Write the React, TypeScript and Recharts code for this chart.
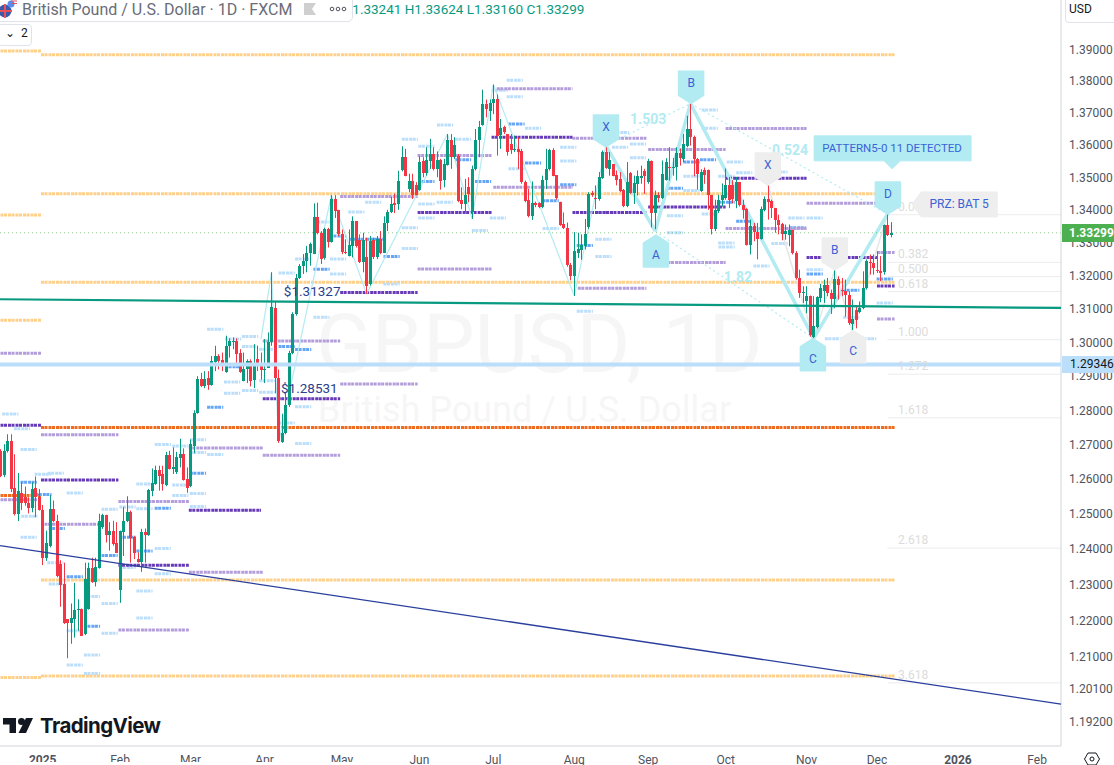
import { Bar, ComposedChart, ReferenceDot, ReferenceLine, XAxis, YAxis } from 'recharts';

const WIDTH = 1114;
const HEIGHT = 765;

const UP = '#089981';
const DOWN = '#f23645';
const CYAN = '#b2ebf2';
const BLUE_TEXT = '#3b62d6';

// daily bars, oldest first
const opens = [
  1.2682, 1.2612, 1.2682, 1.2711, 1.2575, 1.2501, 1.2561, 1.2548, 1.2532, 1.2518,
  1.2575, 1.2548, 1.2512, 1.2374, 1.2410, 1.2515, 1.2480, 1.2359, 1.2302, 1.2203,
  1.2192, 1.2205, 1.2230, 1.2233, 1.2163, 1.2233, 1.2346, 1.2307, 1.2348, 1.2462,
  1.2498, 1.2441, 1.2451, 1.2417, 1.2284, 1.2450, 1.2479, 1.2505, 1.2436, 1.2372,
  1.2364, 1.2448, 1.2440, 1.2566, 1.2586, 1.2627, 1.2615, 1.2584, 1.2670, 1.2628,
  1.2622, 1.2662, 1.2674, 1.2601, 1.2580, 1.2695, 1.2793, 1.2892, 1.2872, 1.2895,
  1.2875, 1.2942, 1.2960, 1.2947, 1.2912, 1.2990, 1.3000, 1.3003, 1.2970, 1.2887,
  1.2920, 1.2945, 1.2888, 1.2950, 1.2930, 1.2920, 1.2925, 1.3000, 1.3103, 1.2895,
  1.2707, 1.2735, 1.2815, 1.2968, 1.3085, 1.3193, 1.3230, 1.3243, 1.3268, 1.3265,
  1.3378, 1.3330, 1.3252, 1.3340, 1.3302, 1.3433, 1.3398, 1.3327, 1.3272, 1.3260,
  1.3290, 1.3365, 1.3308, 1.3240, 1.3255, 1.3175, 1.3307, 1.3255, 1.3310, 1.3268,
  1.3360, 1.3393, 1.3420, 1.3417, 1.3521, 1.3562, 1.3464, 1.3490, 1.3475, 1.3462,
  1.3549, 1.3514, 1.3549, 1.3572, 1.3526, 1.3552, 1.3492, 1.3539, 1.3616, 1.3562,
  1.3567, 1.3431, 1.3418, 1.3471, 1.3392, 1.3526, 1.3614, 1.3662, 1.3727, 1.3706,
  1.3732, 1.3744, 1.3631, 1.3655, 1.3634, 1.3603, 1.3583, 1.3588, 1.3580, 1.3485,
  1.3430, 1.3382, 1.3420, 1.3420, 1.3408, 1.3492, 1.3526, 1.3583, 1.3507, 1.3423,
  1.3356, 1.3343, 1.3232, 1.3198, 1.3267, 1.3279, 1.3289, 1.3348, 1.3452, 1.3437,
  1.3433, 1.3498, 1.3578, 1.3526, 1.3541, 1.3507, 1.3495, 1.3461, 1.3411, 1.3514,
  1.3452, 1.3480, 1.3497, 1.3518, 1.3485, 1.3549, 1.3389, 1.3446, 1.3435, 1.3493,
  1.3533, 1.3530, 1.3531, 1.3575, 1.3557, 1.3598, 1.3650, 1.3624, 1.3556, 1.3458,
  1.3524, 1.3524, 1.3446, 1.3340, 1.3397, 1.3431, 1.3436, 1.3476, 1.3476, 1.3426,
  1.3486, 1.3415, 1.3403, 1.3294, 1.3352, 1.3333, 1.3312, 1.3400, 1.3433, 1.3426,
  1.3405, 1.3370, 1.3358, 1.3325, 1.3323, 1.3337, 1.3269, 1.3193, 1.3148, 1.3123,
  1.3140, 1.3017, 1.3045, 1.3133, 1.3153, 1.3173, 1.3148, 1.3131, 1.3190, 1.3158,
  1.3153, 1.3143, 1.3055, 1.3097, 1.3092, 1.3102, 1.3163, 1.3241, 1.3239, 1.3218,
  1.3213, 1.3210, 1.3355, 1.33241,
];
const highs = [
  1.2687, 1.2701, 1.2730, 1.2730, 1.2672, 1.2618, 1.2591, 1.2579, 1.2548, 1.2591,
  1.2608, 1.2572, 1.2526, 1.2453, 1.2555, 1.2539, 1.2498, 1.2369, 1.2362, 1.2204,
  1.2247, 1.2305, 1.2259, 1.2233, 1.2362, 1.2362, 1.2376, 1.2376, 1.2501, 1.2501,
  1.2498, 1.2477, 1.2481, 1.2477, 1.2453, 1.2520, 1.2551, 1.2510, 1.2438, 1.2391,
  1.2458, 1.2459, 1.2572, 1.2631, 1.2639, 1.2639, 1.2639, 1.2679, 1.2682, 1.2692,
  1.2679, 1.2717, 1.2689, 1.2634, 1.2715, 1.2800, 1.2900, 1.2910, 1.2915, 1.2915,
  1.2960, 1.2990, 1.2965, 1.2970, 1.3020, 1.3012, 1.3015, 1.3012, 1.2980, 1.2970,
  1.2950, 1.2950, 1.2995, 1.2990, 1.2970, 1.3010, 1.3030, 1.3210, 1.3120, 1.2920,
  1.2790, 1.2850, 1.2975, 1.3090, 1.3205, 1.3235, 1.3265, 1.3290, 1.3300, 1.3420,
  1.3422, 1.3335, 1.3345, 1.3345, 1.3445, 1.3445, 1.3400, 1.3340, 1.3310, 1.3340,
  1.3380, 1.3365, 1.3325, 1.3330, 1.3315, 1.3320, 1.3315, 1.3320, 1.3335, 1.3380,
  1.3400, 1.3440, 1.3450, 1.3520, 1.3596, 1.3588, 1.3511, 1.3511, 1.3485, 1.3565,
  1.3562, 1.3593, 1.3619, 1.3593, 1.3580, 1.3557, 1.3557, 1.3634, 1.3634, 1.3624,
  1.3572, 1.3469, 1.3495, 1.3500, 1.3536, 1.3650, 1.3675, 1.3773, 1.3742, 1.3742,
  1.3789, 1.3758, 1.3681, 1.3660, 1.3634, 1.3634, 1.3629, 1.3624, 1.3588, 1.3490,
  1.3464, 1.3487, 1.3425, 1.3423, 1.3505, 1.3588, 1.3588, 1.3590, 1.3507, 1.3425,
  1.3392, 1.3361, 1.3238, 1.3332, 1.3330, 1.3325, 1.3372, 1.3454, 1.3458, 1.3475,
  1.3516, 1.3583, 1.3598, 1.3578, 1.3541, 1.3521, 1.3516, 1.3464, 1.3547, 1.3516,
  1.3505, 1.3521, 1.3536, 1.3526, 1.3557, 1.3552, 1.3459, 1.3454, 1.3552, 1.3559,
  1.3593, 1.3560, 1.3593, 1.3588, 1.3634, 1.3691, 1.3729, 1.3629, 1.3560, 1.3525,
  1.3530, 1.3524, 1.3446, 1.3431, 1.3446, 1.3481, 1.3527, 1.3501, 1.3491, 1.3501,
  1.3486, 1.3431, 1.3405, 1.3370, 1.3360, 1.3360, 1.3410, 1.3441, 1.3476, 1.3431,
  1.3405, 1.3385, 1.3360, 1.3355, 1.3355, 1.3340, 1.3274, 1.3218, 1.3168, 1.3168,
  1.3140, 1.3138, 1.3138, 1.3175, 1.3188, 1.3193, 1.3158, 1.3218, 1.3198, 1.3193,
  1.3188, 1.3153, 1.3128, 1.3108, 1.3122, 1.3213, 1.3249, 1.3264, 1.3264, 1.3274,
  1.3259, 1.3355, 1.3387, 1.33624,
];
const lows = [
  1.2606, 1.2606, 1.2677, 1.2563, 1.2496, 1.2480, 1.2512, 1.2524, 1.2502, 1.2505,
  1.2491, 1.2510, 1.2355, 1.2367, 1.2405, 1.2477, 1.2321, 1.2238, 1.2190, 1.2095,
  1.2135, 1.2152, 1.2171, 1.2157, 1.2159, 1.2230, 1.2305, 1.2295, 1.2345, 1.2458,
  1.2419, 1.2396, 1.2410, 1.2389, 1.2249, 1.2381, 1.2477, 1.2362, 1.2372, 1.2362,
  1.2336, 1.2362, 1.2438, 1.2551, 1.2584, 1.2567, 1.2567, 1.2580, 1.2628, 1.2615,
  1.2615, 1.2634, 1.2596, 1.2561, 1.2577, 1.2675, 1.2790, 1.2868, 1.2865, 1.2860,
  1.2872, 1.2915, 1.2920, 1.2915, 1.2910, 1.2955, 1.2980, 1.2938, 1.2910, 1.2885,
  1.2880, 1.2870, 1.2865, 1.2915, 1.2890, 1.2880, 1.2925, 1.2990, 1.2850, 1.2705,
  1.2705, 1.2730, 1.2810, 1.2965, 1.3080, 1.3190, 1.3205, 1.3210, 1.3230, 1.3265,
  1.3325, 1.3235, 1.3248, 1.3285, 1.3300, 1.3375, 1.3320, 1.3265, 1.3265, 1.3258,
  1.3255, 1.3285, 1.3238, 1.3210, 1.3145, 1.3170, 1.3250, 1.3250, 1.3265, 1.3268,
  1.3335, 1.3390, 1.3390, 1.3400, 1.3518, 1.3503, 1.3454, 1.3433, 1.3444, 1.3459,
  1.3500, 1.3505, 1.3526, 1.3521, 1.3500, 1.3462, 1.3469, 1.3536, 1.3526, 1.3557,
  1.3423, 1.3402, 1.3392, 1.3423, 1.3372, 1.3521, 1.3562, 1.3660, 1.3686, 1.3675,
  1.3696, 1.3567, 1.3588, 1.3634, 1.3567, 1.3572, 1.3578, 1.3526, 1.3480, 1.3423,
  1.3377, 1.3369, 1.3408, 1.3405, 1.3405, 1.3464, 1.3521, 1.3503, 1.3431, 1.3351,
  1.3341, 1.3227, 1.3186, 1.3139, 1.3253, 1.3248, 1.3279, 1.3341, 1.3440, 1.3402,
  1.3428, 1.3495, 1.3526, 1.3505, 1.3503, 1.3475, 1.3454, 1.3408, 1.3408, 1.3449,
  1.3418, 1.3444, 1.3480, 1.3449, 1.3480, 1.3346, 1.3341, 1.3423, 1.3433, 1.3490,
  1.3490, 1.3505, 1.3490, 1.3536, 1.3547, 1.3593, 1.3598, 1.3503, 1.3462, 1.3455,
  1.3480, 1.3400, 1.3325, 1.3335, 1.3390, 1.3410, 1.3431, 1.3405, 1.3420, 1.3405,
  1.3410, 1.3373, 1.3291, 1.3264, 1.3304, 1.3249, 1.3309, 1.3395, 1.3370, 1.3375,
  1.3330, 1.3325, 1.3307, 1.3309, 1.3289, 1.3264, 1.3188, 1.3133, 1.3118, 1.3087,
  1.3017, 1.3012, 1.3042, 1.3120, 1.3118, 1.3138, 1.3085, 1.3102, 1.3128, 1.3138,
  1.3077, 1.3052, 1.3037, 1.3042, 1.3087, 1.3099, 1.3158, 1.3203, 1.3203, 1.3208,
  1.3183, 1.3203, 1.3320, 1.33160,
];
const closes = [
  1.2610, 1.2682, 1.2711, 1.2572, 1.2501, 1.2565, 1.2532, 1.2532, 1.2518, 1.2572,
  1.2548, 1.2512, 1.2374, 1.2419, 1.2515, 1.2480, 1.2324, 1.2300, 1.2192, 1.2192,
  1.2207, 1.2230, 1.2233, 1.2157, 1.2316, 1.2346, 1.2307, 1.2351, 1.2481, 1.2498,
  1.2441, 1.2451, 1.2415, 1.2389, 1.2451, 1.2481, 1.2505, 1.2432, 1.2389, 1.2364,
  1.2448, 1.2440, 1.2569, 1.2589, 1.2627, 1.2610, 1.2586, 1.2670, 1.2629, 1.2634,
  1.2663, 1.2674, 1.2599, 1.2575, 1.2701, 1.2793, 1.2892, 1.2872, 1.2892, 1.2875,
  1.2945, 1.2960, 1.2945, 1.2935, 1.2990, 1.3003, 1.3005, 1.2965, 1.2913, 1.2922,
  1.2945, 1.2885, 1.2930, 1.2932, 1.2918, 1.2922, 1.3000, 1.3105, 1.2895, 1.2710,
  1.2735, 1.2815, 1.2968, 1.3085, 1.3193, 1.3230, 1.3243, 1.3268, 1.3295, 1.3378,
  1.3328, 1.3250, 1.3340, 1.3302, 1.3433, 1.3395, 1.3325, 1.3270, 1.3268, 1.3292,
  1.3365, 1.3290, 1.3240, 1.3307, 1.3170, 1.3305, 1.3255, 1.3310, 1.3268, 1.3360,
  1.3393, 1.3418, 1.3415, 1.3490, 1.3564, 1.3505, 1.3490, 1.3446, 1.3446, 1.3547,
  1.3514, 1.3552, 1.3572, 1.3526, 1.3552, 1.3490, 1.3541, 1.3616, 1.3562, 1.3601,
  1.3428, 1.3418, 1.3446, 1.3449, 1.3526, 1.3614, 1.3655, 1.3727, 1.3713, 1.3732,
  1.3744, 1.3629, 1.3652, 1.3639, 1.3578, 1.3583, 1.3588, 1.3578, 1.3485, 1.3428,
  1.3382, 1.3421, 1.3415, 1.3408, 1.3492, 1.3526, 1.3583, 1.3505, 1.3435, 1.3354,
  1.3343, 1.3232, 1.3198, 1.3274, 1.3281, 1.3294, 1.3325, 1.3449, 1.3446, 1.3434,
  1.3502, 1.3578, 1.3529, 1.3552, 1.3505, 1.3493, 1.3457, 1.3411, 1.3485, 1.3451,
  1.3482, 1.3503, 1.3503, 1.3503, 1.3549, 1.3389, 1.3446, 1.3435, 1.3511, 1.3547,
  1.3528, 1.3532, 1.3575, 1.3559, 1.3603, 1.3650, 1.3624, 1.3555, 1.3510, 1.3516,
  1.3506, 1.3446, 1.3340, 1.3400, 1.3431, 1.3446, 1.3476, 1.3431, 1.3434, 1.3486,
  1.3415, 1.3400, 1.3294, 1.3352, 1.3333, 1.3312, 1.3402, 1.3433, 1.3424, 1.3405,
  1.3370, 1.3355, 1.3325, 1.3335, 1.3337, 1.3269, 1.3193, 1.3148, 1.3150, 1.3140,
  1.3022, 1.3049, 1.3135, 1.3163, 1.3173, 1.3148, 1.3131, 1.3190, 1.3171, 1.3153,
  1.3143, 1.3057, 1.3070, 1.3067, 1.3104, 1.3163, 1.3244, 1.3239, 1.3222, 1.3213,
  1.3208, 1.3355, 1.3323, 1.33299,
];

const priceTicks = [
  1.39, 1.38, 1.37, 1.36, 1.35, 1.34, 1.33, 1.32, 1.31, 1.3, 1.29, 1.28, 1.27, 1.26, 1.25, 1.24, 1.23, 1.22, 1.21,
  1.201, 1.192,
];
const timeTicks = [12, 34, 54, 75, 97, 119, 140, 163, 184, 206, 229, 249, 272, 294.5];
const timeLabels = ['2025', 'Feb', 'Mar', 'Apr', 'May', 'Jun', 'Jul', 'Aug', 'Sep', 'Oct', 'Nov', 'Dec', '2026', 'Feb'];

// long dotted levels: [first bar, last bar, price]
const orangeLevels = [
  [0, 11.5, 1.3895], [11.5, 254, 1.3883], [11.5, 254, 1.3449], [0, 11.5, 1.3384], [11.5, 254, 1.318],
  [0, 11.5, 1.3066], [11.5, 254, 1.2313], [0, 11.5, 1.2042], [11.5, 254, 1.2046],
];
const redOrangeLevels = [[11.5, 254, 1.275], [0, 11.5, 1.2553]];
const purpleLevels = [
  [0, 11.5, 1.2756], [11.5, 33.5, 1.2598], [33.5, 53.5, 1.2355], [53.5, 74, 1.2511], [74.5, 96.5, 1.2834],
  [96.5, 118.5, 1.3149], [118.5, 139.5, 1.3392], [139.5, 162.5, 1.3624], [162.5, 183.5, 1.3392],
  [184, 206, 1.3409], [206, 229, 1.3497], [229, 249, 1.3255], [249, 254, 1.3169],
];
const lilacLevels = [
  [0, 11.5, 1.2968], [0, 11.5, 1.2541], [11.5, 33.5, 1.2729], [12.5, 29, 1.2471], [33.5, 53.5, 1.2536],
  [33.5, 53.5, 1.2173], [53.5, 74.5, 1.269], [53.5, 74.5, 1.2335], [74.5, 96.5, 1.2669], [74.5, 96.5, 1.3004],
  [96.5, 118.5, 1.2877], [96.5, 118.5, 1.3441], [118.5, 139.5, 1.322], [118.5, 139.5, 1.3567], [141, 162.5, 1.3776],
  [140, 162.5, 1.3469], [162.5, 183.5, 1.3621], [164, 183.5, 1.3162], [184, 206, 1.3586], [189.5, 206, 1.324],
  [206, 229, 1.3651], [206, 229, 1.3343], [229, 249, 1.342], [249, 254, 1.327], [249, 254, 1.307],
];

// short pivot ticks, five bars long: [first bar, price]
const blueTicks = [
  [5.7, 1.2591], [9.9, 1.2556], [13.7, 1.2459], [18.8, 1.2322], [23.7, 1.2184], [28.7, 1.2382], [33.8, 1.2434],
  [38.6, 1.2395], [43.8, 1.2517], [53.8, 1.2617], [58.7, 1.2809], [63.8, 1.2928], [79, 1.2988], [83.7, 1.2979],
  [88.9, 1.3219], [93.6, 1.332], [99.3, 1.331], [104, 1.331], [108.8, 1.3258], [118.7, 1.3487], [129.1, 1.3554],
  [134.8, 1.3487], [144.3, 1.3665], [149, 1.3544], [154, 1.3428], [159, 1.3477], [163.7, 1.3291], [169, 1.3392],
  [189.3, 1.3466], [194, 1.3547], [198.7, 1.3554], [204, 1.3423], [209, 1.3365], [224.2, 1.3345], [229, 1.3205],
  [239.4, 1.3156], [248.9, 1.319],
];
const paleTicks = [
  [0.5, 1.2789], [3.8, 1.2746], [5.7, 1.2686], [5.9, 1.2494], [5.7, 1.2434], [9.7, 1.2614], [13.4, 1.2617],
  [13.3, 1.2362], [13.7, 1.2302], [18.8, 1.256], [18.8, 1.2171], [18.8, 1.2076], [23.7, 1.2104], [23.7, 1.2053],
  [23.7, 1.2267], [28.7, 1.2247], [28.7, 1.2164], [28.7, 1.2514], [33.8, 1.252], [33.8, 1.2348], [38.6, 1.2586],
  [38.6, 1.2515], [38.6, 1.2282], [38.6, 1.2207], [43.8, 1.27], [43.8, 1.2402], [43.8, 1.2331], [48.8, 1.2696],
  [48.8, 1.2583], [48.8, 1.2553], [53.8, 1.2714], [53.8, 1.2677], [53.8, 1.2559], [53.8, 1.2522], [58.7, 1.2671],
  [58.7, 1.3039], [63.8, 1.301], [68.6, 1.3018], [68.6, 1.2988], [63.5, 1.2883], [63.5, 1.285], [68.6, 1.2858],
  [73.5, 1.298], [73.5, 1.2853], [73.5, 1.2887], [79, 1.3208], [79, 1.2763], [83.7, 1.281], [83.7, 1.2703],
  [83.7, 1.325], [88.9, 1.3075], [88.9, 1.3363], [93.6, 1.325], [93.6, 1.3205], [98.8, 1.3393], [103.6, 1.3423],
  [108.8, 1.3175], [114, 1.3345], [114, 1.3282], [114, 1.3618], [118.7, 1.3418], [118.7, 1.3375], [118.7, 1.3596],
  [123.9, 1.3423], [124, 1.3662], [129.1, 1.3618], [133.9, 1.3337], [139, 1.3375], [139.5, 1.3771], [143.8, 1.3803],
  [143.8, 1.3751], [144.3, 1.3526], [149, 1.3652], [154, 1.3343], [159, 1.3593], [159, 1.355], [163.7, 1.3093],
  [169, 1.331], [169, 1.3258], [173.7, 1.3593], [174, 1.3639], [178.8, 1.3603], [178.8, 1.356], [189.3, 1.333],
  [189.3, 1.3382], [194, 1.3503], [194, 1.3459], [199.2, 1.3709], [199.2, 1.3652], [199.2, 1.3387], [203.9, 1.3299],
  [203.9, 1.3503], [204, 1.3287], [206.3, 1.3547], [209, 1.3514], [213.9, 1.3229], [219, 1.3516], [219, 1.3297],
  [223.8, 1.3375], [229, 1.3375], [229, 1.3218], [234.2, 1.3011], [239.4, 1.3075], [244.2, 1.3011], [248.9, 1.3118],
];

// harmonic swing points: [bar, price]
const thinSwing = [
  [74, 1.301], [77, 1.321], [79, 1.2705], [94, 1.3445], [104, 1.3145], [127, 1.3634], [134, 1.3372], [140, 1.3789],
  [163, 1.3139], [172, 1.3598],
];
const thickSwing = [[172, 1.3598], [186, 1.3335], [196, 1.3729], [231, 1.3012], [252, 1.3387]];
const greySwing = [[218, 1.3476], [231, 1.3012], [237, 1.3217], [242, 1.3035], [252, 1.3387]];
const dottedLegs = [
  [[172, 1.3598], [196, 1.3729]],
  [[186, 1.3335], [231, 1.3012]],
  [[196, 1.3729], [252, 1.3387]],
];

const bubbles = [
  { text: 'X', bar: 172, price: 1.3594, down: true, grey: false },
  { text: 'B', bar: 196.2, price: 1.373, down: true, grey: false },
  { text: 'A', bar: 186.2, price: 1.3323, down: false, grey: false },
  { text: 'X', bar: 218, price: 1.3476, down: true, grey: true },
  { text: 'B', bar: 237, price: 1.3217, down: true, grey: true },
  { text: 'C', bar: 230.8, price: 1.3011, down: false, grey: false },
  { text: 'C', bar: 242.2, price: 1.3035, down: false, grey: true },
  { text: 'D', bar: 252.1, price: 1.3387, down: true, grey: false },
];

const fibLevels = [
  { name: '0.000', price: 1.3385 }, { name: '0.382', price: 1.324 }, { name: '0.500', price: 1.3197 },
  { name: '0.618', price: 1.3152 }, { name: '1.000', price: 1.3008 }, { name: '1.272', price: 1.2906 },
  { name: '1.618', price: 1.2778 }, { name: '2.618', price: 1.2403 }, { name: '3.618', price: 1.2027 },
];

const ratioLabels = [
  { text: '1.503', bar: 184, price: 1.3678 },
  { text: '0.524', bar: 224.3, price: 1.3581 },
  { text: '1.82', bar: 209.5, price: 1.3192 },
];
const priceNotes = [
  { text: '$1.31327', bar: 80.5, price: 1.3153 },
  { text: '$1.28531', bar: 79.7, price: 1.2866 },
];

const rows = opens.map((open, i) => ({
  i,
  open,
  close: closes[i],
  high: highs[i],
  low: lows[i],
  range: [lows[i], highs[i]],
}));

function Candle(props: any) {
  const { x, y, width, height, payload } = props;
  const { open, close, high, low } = payload;
  const color = close >= open ? UP : DOWN;
  // prices sit on a log axis, so place the body in log space inside the wick
  const span = Math.log(high / low) || 1;
  const yAt = (p: number) => y + (height * Math.log(high / p)) / span;
  const top = Math.round(yAt(Math.max(open, close)));
  const bottom = Math.round(yAt(Math.min(open, close)));
  const mid = Math.round(x + width / 2);
  return (
    <g>
      <line x1={mid + 0.5} x2={mid + 0.5} y1={y} y2={y + height} stroke={color} strokeWidth={1} />
      <rect x={mid - 1} y={top} width={3} height={Math.max(bottom - top, 1)} fill={color} />
    </g>
  );
}

function Bubble({ cx, cy, text, down, grey }: any) {
  const fill = grey ? '#eeeeee' : CYAN;
  const dir = down ? -1 : 1;
  const near = cy + dir * 8;
  const far = cy + dir * 32;
  const w = 12.5;
  return (
    <g>
      <path
        d={`M${cx} ${cy} L${cx + w} ${near} L${cx + w} ${far} L${cx - w} ${far} L${cx - w} ${near} Z`}
        fill={fill}
        stroke={fill}
        strokeWidth={1.5}
        strokeLinejoin="round"
      />
      <text x={cx} y={cy + dir * 20 + 4} textAnchor="middle" fontSize={12} fill={BLUE_TEXT} fontFamily="Roboto">
        {text}
      </text>
    </g>
  );
}

function Callout({ cx, cy }: any) {
  return (
    <g>
      <path
        d={`M${cx - 78} ${cy - 33} H${cx + 79} V${cy - 8} H${cx + 8} L${cx} ${cy} L${cx - 8} ${cy - 8} H${cx - 78} Z`}
        fill={CYAN}
        stroke={CYAN}
        strokeLinejoin="round"
      />
      <text x={cx} y={cy - 17} textAnchor="middle" fontSize={11.5} fill={BLUE_TEXT} fontFamily="Roboto">
        PATTERN5-0 11 DETECTED
      </text>
    </g>
  );
}

function PrzTag({ cx, cy }: any) {
  return (
    <g>
      <path
        d={`M${cx} ${cy} L${cx + 9} ${cy - 12} H${cx + 85} V${cy + 13} H${cx + 9} Z`}
        fill="#eeeeee"
        stroke="#eeeeee"
        strokeLinejoin="round"
      />
      <text x={cx + 47} y={cy + 4} textAnchor="middle" fontSize={12} fill={BLUE_TEXT} fontFamily="Roboto">
        PRZ: BAT 5
      </text>
    </g>
  );
}

function TimeTick({ x, index }: any) {
  const label = timeLabels[index];
  const isYear = label.length === 4;
  return (
    <text x={x} y={764} textAnchor="middle" fontSize={12} fontFamily="Roboto" fill="#50535e" fontWeight={isYear ? 700 : 400}>
      {label}
    </text>
  );
}

const UNDER_CANDLES = 100;
const OVER_CANDLES = 2000;

function level(key: string, from: number, to: number, price: number, color: string, width = 3, dash = '3 0.5 3 1') {
  return (
    <ReferenceLine
      key={key}
      segment={[{ x: from, y: price }, { x: to, y: price }]}
      stroke={color}
      strokeWidth={width}
      strokeDasharray={dash}
      zIndex={UNDER_CANDLES}
    />
  );
}

function legs(points: number[][], stroke: string, strokeWidth: number) {
  return points.slice(1).map((p, n) => (
    <ReferenceLine
      key={`${stroke}-${strokeWidth}-${n}`}
      segment={[{ x: points[n][0], y: points[n][1] }, { x: p[0], y: p[1] }]}
      stroke={stroke}
      strokeWidth={strokeWidth}
      zIndex={UNDER_CANDLES}
    />
  ));
}

const box = { position: 'absolute' } as const;

export default function App() {
  return (
    <div style={{ ...box, left: 0, top: 0, width: WIDTH, height: HEIGHT, overflow: 'hidden', background: '#fff', fontFamily: 'Roboto' }}>
      {/* watermark */}
      <div style={{ ...box, left: 316, top: 296, fontSize: 82, color: '#f6f6f7', whiteSpace: 'nowrap' }}>GBPUSD, 1D</div>
      <div style={{ ...box, left: 318, top: 389, fontSize: 36, color: '#f6f6f7', whiteSpace: 'nowrap' }}>British Pound / U.S. Dollar</div>

      <div style={{ ...box, left: 0, top: 0 }}>
        <ComposedChart width={WIDTH} height={HEIGHT} data={rows} margin={{ top: 0, right: 0, bottom: 0, left: 0 }}>
          <XAxis
            dataKey="i"
            type="number"
            domain={[-0.14, 301.28]}
            allowDataOverflow
            ticks={timeTicks}
            interval={0}
            tick={<TimeTick />}
            tickLine={false}
            height={19}
            axisLine={{ stroke: '#d1d4dc' }}
          />
          <YAxis
            orientation="right"
            scale="log"
            domain={[1.18548, 1.40581]}
            allowDataOverflow
            ticks={priceTicks}
            interval={0}
            width={53}
            tickLine={false}
            axisLine={{ stroke: '#d1d4dc' }}
            tick={{ fontSize: 12, fill: '#50535e', fontFamily: 'Roboto' }}
            tickMargin={2}
            tickFormatter={(v: number) => v.toFixed(5)}
          />

          {fibLevels.map((f) => level(`f${f.name}`, 252, 301.28, f.price, '#ececec', 1, 'none'))}
          {orangeLevels.map(([a, b, p], n) => level(`o${n}`, a, b, p, '#ffd08a'))}
          {redOrangeLevels.map(([a, b, p], n) => level(`r${n}`, a, b, p, '#ef6c1e'))}
          {paleTicks.map(([a, p], n) => level(`p${n}`, a, a + 4.6, p, '#bbdefb'))}
          {blueTicks.map(([a, p], n) => level(`b${n}`, a, a + 4.6, p, '#64a5f5'))}
          {lilacLevels.map(([a, b, p], n) => level(`l${n}`, a, b, p, '#b39ddb'))}
          {purpleLevels.map(([a, b, p], n) => level(`d${n}`, a, b, p, '#673ab7'))}

          {legs(greySwing, '#e6e6e6', 1.5)}
          {legs(thinSwing, CYAN, 1.2)}
          {dottedLegs.map((leg, n) => (
            <ReferenceLine
              key={`dot${n}`}
              segment={[{ x: leg[0][0], y: leg[0][1] }, { x: leg[1][0], y: leg[1][1] }]}
              stroke={CYAN}
              strokeWidth={1.2}
              strokeDasharray="2 3"
              zIndex={UNDER_CANDLES}
            />
          ))}
          {legs(thickSwing, CYAN, 3.5)}

          <ReferenceLine y={1.33299} stroke="#4caf50" strokeOpacity={0.6} strokeDasharray="1 3" zIndex={UNDER_CANDLES} />

          <Bar dataKey="range" barSize={3} shape={<Candle />} isAnimationActive={false} zIndex={300} />

          <ReferenceLine segment={[{ x: -0.14, y: 1.3129 }, { x: 301.28, y: 1.3103 }]} stroke={UP} strokeWidth={2.2} zIndex={OVER_CANDLES} />
          <ReferenceLine segment={[{ x: -0.14, y: 1.241 }, { x: 301.28, y: 1.1969 }]} stroke="#2a3f9d" strokeWidth={1.3} zIndex={OVER_CANDLES} />
          <ReferenceLine y={1.29346} stroke="#bbdefb" strokeWidth={4} zIndex={OVER_CANDLES} />

          {fibLevels.map((f) => (
            <ReferenceDot
              key={`t${f.name}`}
              x={255}
              y={f.price}
              r={0}
              zIndex={OVER_CANDLES}
              shape={(p: any) => (
                <text x={p.cx} y={p.cy - 4} fontSize={12} fill="#dcdcdc" fontFamily="Roboto">
                  {f.name}
                </text>
              )}
            />
          ))}
          {ratioLabels.map((r) => (
            <ReferenceDot
              key={r.text}
              x={r.bar}
              y={r.price}
              r={0}
              zIndex={OVER_CANDLES}
              shape={(p: any) => (
                <text x={p.cx} y={p.cy + 4} textAnchor="middle" fontSize={14} fontWeight={700} fill={CYAN} fontFamily="Roboto">
                  {r.text}
                </text>
              )}
            />
          ))}
          {priceNotes.map((r) => (
            <ReferenceDot
              key={r.text}
              x={r.bar}
              y={r.price}
              r={0}
              zIndex={OVER_CANDLES}
              shape={(p: any) => (
                <text x={p.cx} y={p.cy + 5} fontSize={13.5} fill="#2a3f8f" fontFamily="Roboto">
                  {r.text}
                </text>
              )}
            />
          ))}
          {bubbles.map((b) => (
            <ReferenceDot
              key={`${b.text}${b.bar}`}
              x={b.bar}
              y={b.price}
              r={0}
              zIndex={OVER_CANDLES}
              shape={(p: any) => <Bubble cx={p.cx} cy={p.cy} text={b.text} down={b.down} grey={b.grey} />}
            />
          ))}
          <ReferenceDot x={253.3} y={1.3526} r={0} zIndex={OVER_CANDLES} shape={(p: any) => <Callout cx={p.cx} cy={p.cy} />} />
          <ReferenceDot x={259} y={1.3418} r={0} zIndex={OVER_CANDLES} shape={(p: any) => <PrzTag cx={p.cx} cy={p.cy} />} />
        </ComposedChart>
      </div>

      {/* legend strip */}
      <div style={{ ...box, left: 343, top: 1, fontSize: 13.5, color: UP, whiteSpace: 'nowrap' }}>
        O1.33241 H1.33624 L1.33160 C1.33299
      </div>
      <div style={{ ...box, left: -6, top: -1, width: 357, height: 21, background: '#fff', border: '1px solid #e0e3eb', borderRadius: '0 0 5px 0' }} />
      <svg style={{ ...box, left: 0, top: 0 }} width={20} height={20}>
        <circle cx={5} cy={11} r={6.5} fill="#3d5aa8" />
        <path d="M-1 11 H12 M5 4 V18" stroke="#e8505b" strokeWidth={2} />
        <circle cx={11} cy={4} r={3.5} fill="#5b8def" />
        <path d="M11 1 H17 M11 3.5 H17" stroke="#e8505b" strokeWidth={1.2} />
      </svg>
      <div style={{ ...box, left: 22, top: 0, fontSize: 16, color: '#6a6d78', whiteSpace: 'nowrap' }}>British Pound / U.S. Dollar · 1D · FXCM</div>
      <svg style={{ ...box, left: 303, top: 2 }} width={14} height={14}>
        <path d="M1 1 H13 L9 7 L13 13 H1 Z" fill="#cfcfcf" />
      </svg>
      <svg style={{ ...box, left: 329, top: 6 }} width={18} height={6}>
        <circle cx={3} cy={3} r={1.8} fill="none" stroke="#50535e" />
        <circle cx={9} cy={3} r={1.8} fill="none" stroke="#50535e" />
        <circle cx={15} cy={3} r={1.8} fill="none" stroke="#50535e" />
      </svg>
      <div style={{ ...box, left: -3, top: 24, width: 33, height: 20, background: '#fff', border: '1px solid #e0e3eb', borderRadius: 4 }} />
      <div style={{ ...box, left: 5, top: 26, fontSize: 12, color: '#131722', whiteSpace: 'nowrap' }}>⌄&nbsp;&nbsp;2</div>

      {/* logo */}
      <svg style={{ ...box, left: 3, top: 717 }} width={32} height={18}>
        <path d="M0 1 H13 V16 H6.5 V7.5 H0 Z M23 1 H30 L23 16 H15.5 Z" fill="#131722" />
        <circle cx={18.5} cy={4.5} r={3.5} fill="#131722" />
      </svg>
      <div style={{ ...box, left: 40, top: 713, fontSize: 20.5, fontWeight: 700, color: '#131722', fontFamily: 'Inter', letterSpacing: -0.6 }}>TradingView</div>

      {/* price scale chips */}
      <div style={{ ...box, left: 1062, top: 224, width: 52, height: 18, background: '#4caf50', color: '#fff', fontSize: 12, fontWeight: 700, lineHeight: '18px', paddingLeft: 7, boxSizing: 'border-box' }}>1.33299</div>
      <div style={{ ...box, left: 1062, top: 356, width: 52, height: 17, background: '#bbdefb', color: '#131722', fontSize: 12, lineHeight: '17px', paddingLeft: 8, boxSizing: 'border-box' }}>1.29346</div>
      <div style={{ ...box, left: 1065, top: -4, width: 60, height: 25, background: '#fff', border: '1px solid #e0e3eb', borderRadius: 4 }} />
      <div style={{ ...box, left: 1069, top: 2, fontSize: 12, color: '#131722', whiteSpace: 'nowrap' }}>USD</div>
      <svg style={{ ...box, left: 1084, top: 752 }} width={16} height={14}>
        <path d="M4 1 H12 L15.5 7 L12 13 H4 L0.5 7 Z" fill="none" stroke="#131722" />
        <circle cx={8} cy={7} r={2} fill="none" stroke="#131722" />
      </svg>
      <div style={{ ...box, left: 0, top: 762, width: 390, height: 3, background: '#fff' }} />
    </div>
  );
}
